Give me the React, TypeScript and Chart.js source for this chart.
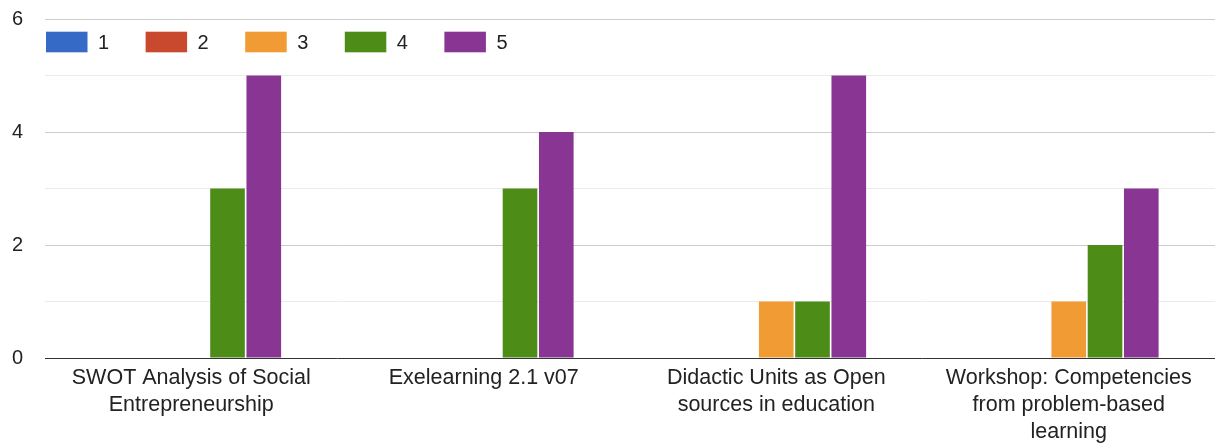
import React, { useEffect, useRef } from "react";
import { Chart, registerables } from "chart.js";

Chart.register(...registerables);

const categories: string[][] = [
  ["SWOT Analysis of Social", "Entrepreneurship"],
  ["Exelearning 2.1 v07"],
  ["Didactic Units as Open", "sources in education"],
  ["Workshop: Competencies", "from problem-based", "learning"],
];
const seriesLabels = ["1", "2", "3", "4", "5"];
const seriesColors = ["#356bc6", "#c9492f", "#f19b35", "#4c8c17", "#883594"];
const values1 = [0, 0, 0, 0];
const values2 = [0, 0, 0, 0];
const values3 = [0, 0, 1, 1];
const values4 = [3, 3, 1, 2];
const values5 = [5, 4, 5, 3];
const yTickLabels = [0, 2, 4, 6];

const FONT = "Arial, 'Liberation Sans', sans-serif";

const legendPlugin = {
  id: "insideLegend",
  afterDraw(chart: any) {
    const ctx = chart.ctx;
    ctx.save();
    ctx.font = `20px ${FONT}`;
    ctx.textBaseline = "middle";
    ctx.textAlign = "left";
    chart.data.datasets.forEach((ds: any, i: number) => {
      const x = 46 + i * 99.6;
      const y = 42;
      ctx.fillStyle = ds.backgroundColor;
      ctx.fillRect(x, y - 10.3, 41.5, 20.6);
      ctx.fillStyle = "#222222";
      ctx.fillText(ds.label, x + 52, y + 1);
    });
    ctx.restore();
  },
};

export default function App() {
  const ref = useRef<HTMLCanvasElement | null>(null);
  useEffect(() => {
    document.body.style.margin = "0";
    const series = [values1, values2, values3, values4, values5];
    const chart = new Chart(ref.current!, {
      type: "bar",
      data: {
        labels: categories,
        datasets: series.map((v, i) => ({
          label: seriesLabels[i],
          data: v,
          backgroundColor: seriesColors[i],
          borderWidth: 0,
          categoryPercentage: 0.62,
          barPercentage: 0.955,
        })),
      },
      options: {
        responsive: false,
        animation: false,
        layout: { padding: { top: 19, right: 0, left: 12, bottom: 0 } },
        plugins: {
          legend: { display: false },
          tooltip: { enabled: false },
        },
        scales: {
          x: {
            grid: { display: false },
            border: { display: false },
            ticks: {
              color: "#222222",
              font: { family: FONT, size: 21.5, lineHeight: 1.25 },
              padding: -1,
              autoSkip: false,
              maxRotation: 0,
              minRotation: 0,
            },
            afterFit: (s: any) => {
              s.height = 85;
            },
          },
          y: {
            min: 0,
            max: 6,
            border: { display: false },
            grid: {
              drawTicks: false,
              color: (c: any) =>
                c.tick.value === 0
                  ? "#333333"
                  : c.tick.value % 2 === 0
                  ? "#cccccc"
                  : "#ebebeb",
              lineWidth: 1,
            },
            ticks: {
              stepSize: 1,
              color: "#222222",
              font: { family: FONT, size: 20 },
              padding: 0,
              crossAlign: "far",
              callback: (v: any) => (yTickLabels.includes(v) ? String(v) : ""),
            },
            afterFit: (s: any) => {
              s.width = 33;
            },
          },
        },
      },
      plugins: [legendPlugin],
    });
    return () => chart.destroy();
  }, []);
  return (
    <div style={{ width: 1215, height: 443 }}>
      <canvas ref={ref} width={1215} height={443} />
    </div>
  );
}
